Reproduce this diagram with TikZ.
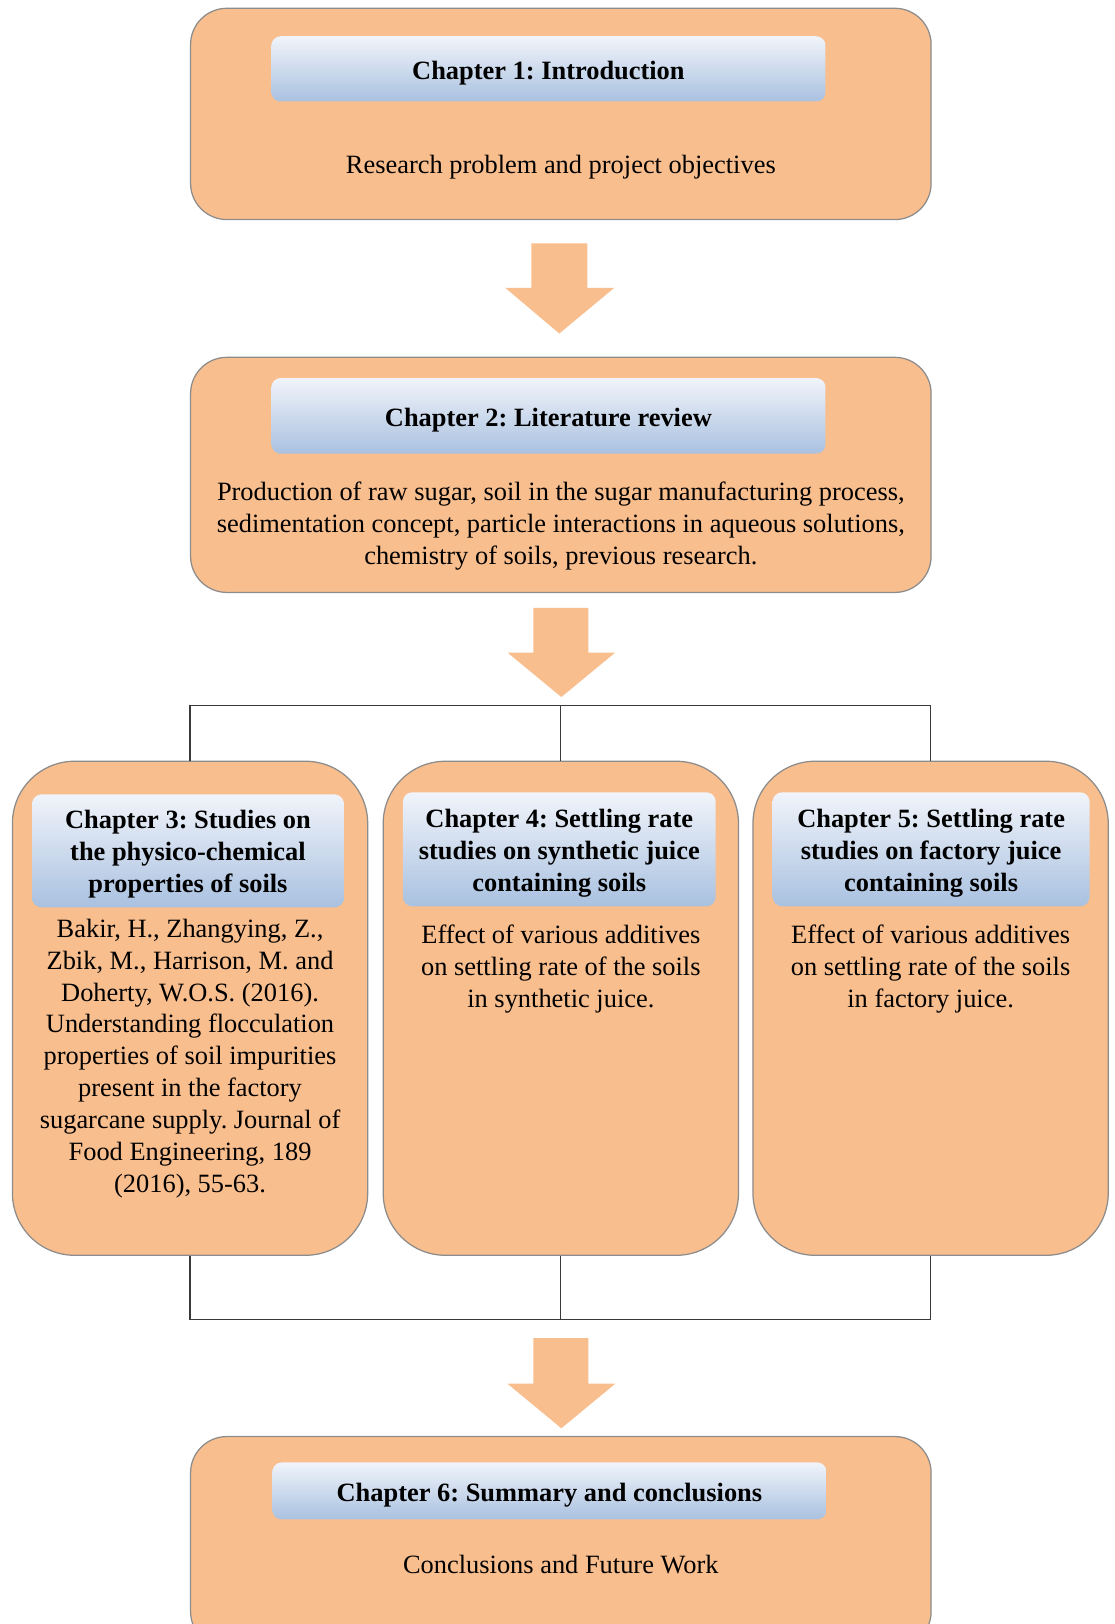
\documentclass[tikz,border=0pt]{standalone}
\usepackage{fontspec}
\setmainfont{Liberation Serif}
\frenchspacing
\definecolor{boxfill}{HTML}{F9BE8E}
\definecolor{boxline}{HTML}{8C8C8C}
\definecolor{hdtop}{HTML}{F1F4FA}
\definecolor{hdbot}{HTML}{A9C1E0}
\definecolor{connline}{HTML}{3A3A3A}
\tikzset{
  chapbox/.style={draw=boxline, line width=0.6pt, fill=boxfill, rounded corners=17.5pt, inner sep=0pt},
  tallbox/.style={chapbox, rounded corners=30pt},
  header/.style={rounded corners=4.5pt, inner sep=0pt, top color=hdtop, bottom color=hdbot, shading angle=0},
  bodytext/.style={align=center, font=\fontsize{12.75}{15.4}\selectfont, inner sep=0pt},
  headtext/.style={bodytext, font=\fontsize{12.75}{15.4}\selectfont\bfseries},
  blockarrow/.style={fill=boxfill, draw=none},
  conn/.style={draw=connline, line width=0.6pt},
}
\begin{document}
\begin{tikzpicture}[x=0.5pt, y=-0.5pt]
\clip (0,0) rectangle (1076,1568);
\fill[white] (0,0) rectangle (1076,1568);

% ---- Chapter 1
\node[chapbox, minimum width=357.5pt, minimum height=102pt] (b1) at (541.5,110) {};
\node[header, minimum width=267.5pt, minimum height=31.5pt] (h1) at (529.5,66.5) {};
\node[headtext] (h1t) at (529.5,70.5) {Chapter 1: Introduction};
\node[bodytext] (t1) at (541.5,161) {Research problem and project objectives};

% arrow 1
\fill[blockarrow] (513,235) -- (567,235) -- (567,278) -- (593,278) -- (540,322) -- (488,278) -- (513,278) -- cycle;

% ---- Chapter 2
\node[chapbox, minimum width=357.5pt, minimum height=113.5pt] (b2) at (541.5,458.5) {};
\node[header, minimum width=267.5pt, minimum height=36.5pt] (h2) at (529.5,401.5) {};
\node[headtext] (h2t) at (529.5,405.5) {Chapter 2: Literature review};
\node[bodytext] (t2) at (541.5,508) {Production of raw sugar, soil in the sugar manufacturing process,\\sedimentation concept, particle interactions in aqueous solutions,\\chemistry of soils, previous research.};

% arrow 2
\fill[blockarrow] (515,587) -- (568,587) -- (568,630) -- (594,630) -- (542,673) -- (490,630) -- (515,630) -- cycle;

% ---- Chapters 3-5
\node[tallbox, minimum width=171.5pt, minimum height=238.5pt] (b3) at (183.5,973.5) {};
\node[tallbox, minimum width=171.5pt, minimum height=238.5pt] (b4) at (541.5,973.5) {};
\node[tallbox, minimum width=171.5pt, minimum height=238.5pt] (b5) at (898.5,973.5) {};

\node[header, minimum width=150.5pt, minimum height=54.5pt] (h3) at (181.5,821.5) {};
\node[header, minimum width=151pt, minimum height=55pt] (h4) at (540,820) {};
\node[header, minimum width=153pt, minimum height=55pt] (h5) at (899,820) {};

\node[headtext] (h3t) at (181.5,825) {Chapter 3: Studies on\\the physico-chemical\\properties of soils};
\node[headtext] (h4t) at (540,824) {Chapter 4: Settling rate\\studies on synthetic juice\\containing soils};
\node[headtext] (h5t) at (899,824) {Chapter 5: Settling rate\\studies on factory juice\\containing soils};

\node[bodytext] (t3) at (183.5,1022) {Bakir, H., Zhangying, Z.,\\Zbik, M., Harrison, M. and\\Doherty, W.O.S. (2016).\\Understanding flocculation\\properties of soil impurities\\present in the factory\\sugarcane supply. Journal of\\Food Engineering, 189\\(2016), 55-63.};
\node[bodytext] (t4) at (541.5,936) {Effect of various additives\\on settling rate of the soils\\in synthetic juice.};
\node[bodytext] (t5) at (898.5,936) {Effect of various additives\\on settling rate of the soils\\in factory juice.};

% bracket connectors (top)
\coordinate (topbar) at (541.5,681);
\draw[conn] (b3.north) |- (topbar) -| (b5.north);
\draw[conn] (b4.north) -- (b4.north |- topbar);

% bracket connectors (bottom)
\coordinate (botbar) at (541.5,1274);
\draw[conn] (b3.south) |- (botbar) -| (b5.south);
\draw[conn] (b4.south) -- (b4.south |- botbar);

% arrow 3
\fill[blockarrow] (515,1292) -- (568,1292) -- (568,1336) -- (594,1336) -- (542,1379) -- (490,1336) -- (515,1336) -- cycle;

% ---- Chapter 6
\node[chapbox, minimum width=357.5pt, minimum height=102pt] (b6) at (541.5,1489) {};
\node[header, minimum width=267.5pt, minimum height=27.5pt] (h6) at (530.5,1439.5) {};
\node[headtext] (h6t) at (530.5,1443.5) {Chapter 6: Summary and conclusions};
\node[bodytext] (t6) at (541.5,1511) {Conclusions and Future Work};
\end{tikzpicture}
\end{document}
